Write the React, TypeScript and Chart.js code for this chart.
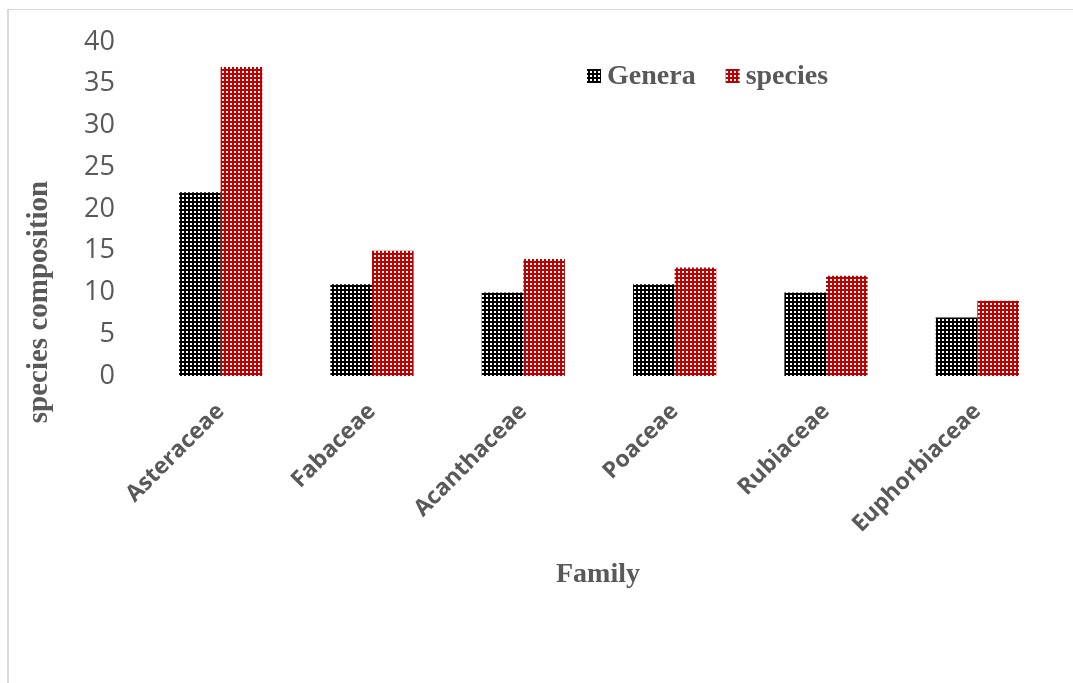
import React, { useEffect, useRef } from "react";
import { Chart, registerables } from "chart.js";

Chart.register(...registerables);

const families = ["Asteraceae", "Fabaceae", "Acanthaceae", "Poaceae", "Rubiaceae", "Euphorbiaceae"];
const genera = [22, 11, 10, 11, 10, 7];
const species = [37, 15, 14, 13, 12, 9];
const seriesNames = ["Genera", "species"];
const seriesColors = ["#000000", "#c00000"];
const yTicks = [0, 5, 10, 15, 20, 25, 30, 35, 40];

function makePattern(color: string): CanvasPattern | string {
  const c = document.createElement("canvas");
  c.width = 4;
  c.height = 4;
  const g = c.getContext("2d");
  if (!g) return color;
  g.fillStyle = color;
  g.fillRect(0, 0, 4, 4);
  g.fillStyle = "#ffffff";
  g.fillRect(1, 1, 2, 2);
  const p = g.createPattern(c, "repeat");
  return p || color;
}

const TITLE_FONT = "bold 28px 'Liberation Serif', 'Times New Roman', serif";
const GRAY = "#595959";

const overlayPlugin = {
  id: "overlay",
  afterDraw(chart: any) {
    const ctx = chart.ctx as CanvasRenderingContext2D;
    const area = chart.chartArea;
    ctx.save();
    // legend
    ctx.font = TITLE_FONT;
    ctx.textBaseline = "middle";
    ctx.textAlign = "left";
    let x = area.left + 442;
    const y = area.top + 34;
    chart.data.datasets.forEach((ds: any) => {
      ctx.fillStyle = ds.backgroundColor;
      ctx.fillRect(x, y - 7, 14, 14);
      ctx.fillStyle = GRAY;
      ctx.fillText(ds.label, x + 20, y + 1);
      x += 20 + ctx.measureText(ds.label).width + 30;
    });
    // y title
    ctx.save();
    ctx.translate(31, 292);
    ctx.rotate(-Math.PI / 2);
    ctx.textAlign = "center";
    ctx.fillStyle = GRAY;
    ctx.font = "bold 29px 'Liberation Serif', 'Times New Roman', serif";
    ctx.fillText("species composition", 0, 0);
    ctx.restore();
    // x title
    ctx.textAlign = "center";
    ctx.fillStyle = GRAY;
    ctx.fillText("Family", (area.left + area.right) / 2 - 1, 565);
    ctx.restore();
  },
};

export default function App() {
  const ref = useRef<HTMLCanvasElement | null>(null);
  useEffect(() => {
    if (!ref.current) return;
    const chart = new Chart(ref.current, {
      type: "bar",
      data: {
        labels: families,
        datasets: [
          { label: seriesNames[0], data: genera, backgroundColor: makePattern(seriesColors[0]) as any, borderWidth: 0 },
          { label: seriesNames[1], data: species, backgroundColor: makePattern(seriesColors[1]) as any, borderWidth: 0 },
        ],
      },
      options: {
        animation: false,
        responsive: false,
        maintainAspectRatio: false,
        layout: { padding: { left: 0, right: 12, top: 32, bottom: 0 } },
        datasets: { bar: { categoryPercentage: 0.55, barPercentage: 1 } },
        plugins: { legend: { display: false }, tooltip: { enabled: false } },
        scales: {
          x: {
            grid: { display: false },
            border: { display: false },
            ticks: {
              minRotation: 45,
              maxRotation: 45,
              padding: 14,
              color: GRAY,
              font: { family: "'Open Sans', sans-serif", size: 23, weight: "bold" },
            },
            afterFit: (s: any) => {
              s.height = 307;
              s.paddingLeft = 0;
              s.paddingRight = 0;
            },
          },
          y: {
            min: 0,
            max: 40,
            grid: { display: false },
            border: { display: false },
            afterBuildTicks: (s: any) => {
              s.ticks = yTicks.map((v) => ({ value: v }));
            },
            ticks: {
              padding: 22,
              color: GRAY,
              font: { family: "'Open Sans', sans-serif", size: 27 },
            },
            afterFit: (s: any) => {
              s.width = 136;
              s.paddingTop = 0;
              s.paddingBottom = 0;
            },
          },
        },
      },
      plugins: [overlayPlugin],
    });
    return () => chart.destroy();
  }, []);
  return (
    <div
      style={{
        position: "absolute",
        left: 7,
        top: 9,
        width: 1064,
        height: 674,
        borderTop: "1px solid #d9d9d9",
        borderLeft: "2px solid #d9d9d9",
        background: "#fff",
        overflow: "hidden",
      }}
    >
      <canvas ref={ref} width={1056} height={673} style={{ display: "block" }} />
    </div>
  );
}
